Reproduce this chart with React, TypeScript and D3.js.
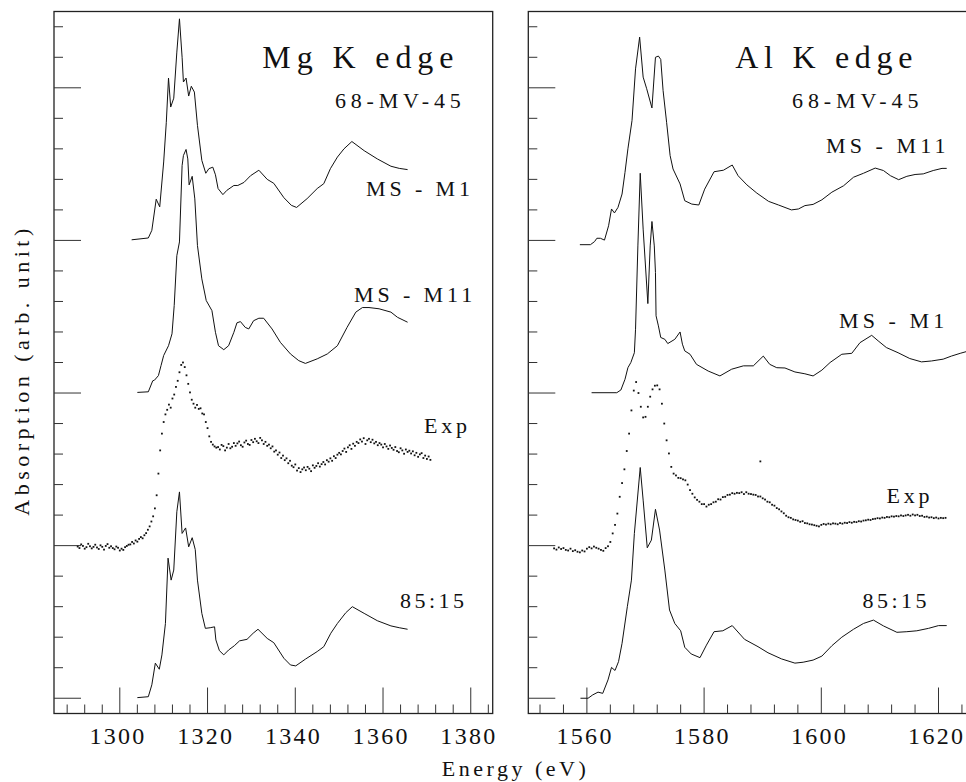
import React from "react";
import * as d3 from "d3";

// ---------- axes ----------
const MG_DOMAIN: [number, number] = [1285, 1385];
const AL_DOMAIN: [number, number] = [1550, 1625];
const Y_DOMAIN: [number, number] = [-0.5, 22.5];
const MG_TICKS = [1300, 1320, 1340, 1360, 1380];
const AL_TICKS = [1560, 1580, 1600, 1620];

// ---------- Mg K edge (energy eV, absorption in offset units) ----------
const MG_CALC_A = [[1302.7,15.02],[1306.5,15.08],[1307.3,15.33],[1308.3,16.35],[1309.1,16.1],[1310.0,17.57],[1310.6,18.87],[1311.1,20.32],[1311.6,19.37],[1312.3,19.66],[1313.0,21.17],[1313.6,22.26],[1314.2,21.0],[1314.5,20.19],[1315.1,20.32],[1315.7,19.73],[1316.3,20.05],[1317.0,19.86],[1317.7,18.77],[1318.7,17.62],[1319.6,17.2],[1320.3,17.35],[1321.2,17.4],[1321.8,17.15],[1322.4,16.7],[1323.5,16.5],[1324.4,16.64],[1326.0,16.8],[1326.9,16.8],[1328.3,16.9],[1329.8,17.12],[1331.7,17.3],[1333.6,17.0],[1335.1,16.87],[1337.4,16.4],[1339.1,16.15],[1340.3,16.08],[1342.7,16.37],[1345.0,16.7],[1346.5,16.86],[1348.0,17.35],[1349.6,17.73],[1351.1,18.0],[1352.9,18.24],[1355.7,17.94],[1358.7,17.67],[1361.8,17.43],[1363.7,17.36],[1365.6,17.32]];
const MG_CALC_B = [[1304.0,10.02],[1306.5,10.04],[1307.5,10.4],[1307.9,10.42],[1308.8,10.57],[1309.4,10.9],[1310.0,11.23],[1311.1,11.55],[1311.9,11.94],[1312.4,12.87],[1313.0,14.5],[1313.6,14.95],[1314.2,17.45],[1314.5,17.78],[1315.1,17.98],[1315.5,17.67],[1315.8,16.82],[1316.5,17.1],[1317.1,16.36],[1317.7,14.83],[1318.7,13.74],[1319.7,13.03],[1321.0,12.7],[1321.8,11.99],[1322.5,11.55],[1323.7,11.42],[1324.8,11.55],[1326.0,11.99],[1326.7,12.3],[1327.5,12.34],[1328.6,12.15],[1329.4,12.1],[1330.5,12.37],[1331.7,12.45],[1332.8,12.45],[1334.7,12.1],[1336.6,11.66],[1338.9,11.28],[1340.8,11.06],[1342.3,10.97],[1345.0,11.12],[1347.3,11.28],[1349.6,11.55],[1351.8,12.15],[1353.8,12.65],[1355.3,12.8],[1356.8,12.8],[1359.1,12.76],[1361.8,12.65],[1363.3,12.48],[1365.6,12.32]];
const MG_MIX = [[1304.0,0.02],[1306.5,0.05],[1307.3,0.44],[1308.1,1.15],[1309.0,0.95],[1309.6,1.42],[1310.4,2.45],[1311.0,4.59],[1311.7,3.87],[1312.3,4.2],[1313.0,6.11],[1313.6,6.76],[1314.2,5.4],[1315.0,5.58],[1315.7,4.96],[1316.5,5.26],[1317.2,4.87],[1317.7,3.87],[1318.7,2.78],[1319.5,2.29],[1320.6,2.31],[1321.6,2.34],[1321.9,1.91],[1322.7,1.56],[1323.7,1.42],[1324.8,1.58],[1326.1,1.72],[1327.3,1.88],[1329.0,1.93],[1330.4,2.13],[1331.5,2.26],[1333.6,1.96],[1335.1,1.82],[1337.4,1.31],[1338.9,1.09],[1340.1,1.06],[1342.3,1.28],[1345.0,1.53],[1346.5,1.69],[1348.1,2.13],[1349.6,2.45],[1351.5,2.8],[1353.0,3.0],[1355.7,2.78],[1358.7,2.54],[1361.8,2.37],[1363.7,2.31],[1365.6,2.26]];
const MG_EXP_START = 1290.4;
const MG_EXP_STEP = 0.4;
const MG_EXP = [
  4.97,4.92,5.04,4.99,4.90,4.95,5.06,4.98,4.91,4.96,
  5.03,4.94,4.89,5.01,4.96,4.87,4.99,5.05,4.93,4.98,
  4.92,4.88,4.97,4.93,4.84,4.90,4.86,4.95,4.99,5.03,
  5.04,5.12,5.07,5.17,5.13,5.22,5.28,5.24,5.34,5.41,
  5.52,5.63,5.79,5.96,6.22,6.65,7.36,8.12,8.67,9.05,
  9.30,9.45,9.62,9.52,9.82,9.95,10.2,10.4,10.68,10.92,
  11.0,10.85,10.58,10.3,10.02,9.78,9.65,9.52,9.61,9.48,
  9.50,9.33,9.30,9.05,8.85,8.58,8.40,8.31,8.25,8.21,
  8.23,8.15,8.30,8.26,8.12,8.21,8.33,8.19,8.24,8.36,
  8.27,8.35,8.41,8.29,8.24,8.38,8.44,8.33,8.30,8.46,
  8.39,8.50,8.42,8.36,8.53,8.45,8.33,8.40,8.27,8.31,
  8.19,8.25,8.08,8.12,7.98,8.05,7.87,7.95,7.80,7.86,
  7.70,7.78,7.62,7.57,7.66,7.46,7.54,7.41,7.50,7.56,
  7.47,7.58,7.52,7.44,7.63,7.55,7.61,7.70,7.59,7.67,
  7.74,7.66,7.80,7.75,7.86,7.78,7.93,7.87,7.98,8.04,
  7.99,8.10,8.18,8.07,8.22,8.29,8.17,8.34,8.27,8.40,
  8.36,8.48,8.41,8.52,8.33,8.45,8.50,8.39,8.47,8.35,
  8.40,8.29,8.36,8.31,8.22,8.33,8.25,8.17,8.28,8.20,
  8.14,8.23,8.10,8.06,8.19,8.12,8.01,8.15,8.07,8.11,
  8.02,8.09,7.96,8.04,7.91,7.99,8.03,7.87,7.95,7.84,
  7.92,7.81
];

// ---------- Al K edge ----------
const AL_CALC_A = [[1558.8,14.86],[1560.6,14.86],[1561.3,14.96],[1561.7,15.07],[1562.3,15.07],[1563.0,15.01],[1563.7,15.48],[1564.2,16.03],[1564.7,15.9],[1565.3,16.08],[1566.0,16.52],[1566.5,17.23],[1567.0,18.0],[1567.7,18.93],[1568.3,20.62],[1569.0,21.66],[1569.6,20.35],[1570.2,19.97],[1571.1,19.34],[1571.7,21.0],[1572.2,21.04],[1572.6,20.93],[1573.0,19.91],[1573.6,18.87],[1574.2,17.78],[1574.7,17.34],[1575.9,16.85],[1576.7,16.3],[1577.9,16.19],[1579.1,16.16],[1580.1,16.68],[1581.7,17.25],[1583.3,17.3],[1584.8,17.47],[1585.8,17.12],[1587.3,16.82],[1589.0,16.55],[1591.0,16.28],[1592.7,16.16],[1594.9,16.0],[1596.1,16.03],[1597.2,16.14],[1598.6,16.18],[1600.1,16.33],[1601.8,16.58],[1603.8,16.79],[1605.5,17.07],[1607.2,17.2],[1609.2,17.37],[1610.6,17.29],[1611.8,17.12],[1613.2,16.99],[1614.6,17.1],[1616.0,17.16],[1617.4,17.18],[1619.1,17.29],[1620.6,17.36],[1621.4,17.36]];
const AL_CALC_B = [[1560.8,10.01],[1565.1,10.01],[1565.8,10.1],[1566.5,10.45],[1567.0,10.83],[1567.5,11.0],[1568.1,11.32],[1568.3,12.09],[1568.7,14.82],[1569.1,17.2],[1569.6,15.37],[1570.4,12.93],[1570.8,14.82],[1571.1,15.62],[1571.5,14.82],[1571.7,13.95],[1571.8,12.53],[1572.2,12.2],[1572.6,11.82],[1573.3,11.76],[1573.8,11.62],[1575.0,11.76],[1575.9,12.0],[1576.3,11.6],[1576.7,11.38],[1577.6,11.27],[1578.7,10.94],[1580.7,10.72],[1582.7,10.56],[1584.7,10.78],[1586.7,10.89],[1588.4,10.89],[1590.1,11.21],[1591.2,10.94],[1592.4,10.83],[1593.8,10.82],[1595.5,10.69],[1597.2,10.63],[1598.6,10.56],[1600.1,10.75],[1601.5,11.0],[1603.5,11.27],[1605.2,11.3],[1606.6,11.65],[1608.6,11.89],[1609.7,11.71],[1611.1,11.49],[1613.1,11.32],[1615.1,11.13],[1617.1,11.02],[1618.8,11.05],[1620.8,11.11],[1622.2,11.21],[1623.7,11.3],[1624.8,11.36]];
const AL_MIX = [[1558.9,0.0],[1560.2,0.0],[1561.0,0.11],[1561.9,0.2],[1562.7,0.16],[1563.6,0.6],[1564.2,1.01],[1564.8,0.91],[1565.4,1.2],[1566.0,1.8],[1566.9,3.0],[1567.6,3.87],[1568.1,5.4],[1569.1,7.56],[1569.6,6.49],[1570.3,4.93],[1571.0,5.18],[1571.7,6.19],[1572.4,5.51],[1573.3,4.2],[1574.1,2.89],[1575.0,2.45],[1576.0,2.21],[1576.7,1.67],[1577.8,1.45],[1579.3,1.33],[1580.4,1.74],[1581.7,2.18],[1583.2,2.21],[1584.8,2.38],[1586.9,1.93],[1589.2,1.69],[1590.9,1.49],[1593.2,1.29],[1595.5,1.15],[1596.9,1.18],[1598.6,1.25],[1600.1,1.38],[1601.8,1.72],[1603.5,2.0],[1605.5,2.26],[1607.2,2.45],[1608.9,2.56],[1610.6,2.37],[1612.9,2.16],[1614.6,2.18],[1616.3,2.21],[1618.3,2.29],[1620.0,2.38],[1621.4,2.38]];
const AL_EXP_START = 1554.4;
const AL_EXP_STEP = 0.4;
const AL_EXP = [
  4.91,4.87,4.94,4.89,4.92,4.86,4.84,4.90,4.82,4.85,
  4.80,4.78,4.84,4.81,4.90,4.95,4.91,4.97,4.93,4.90,
  4.86,4.83,4.92,4.98,5.12,5.40,5.68,6.05,6.60,7.05,
  7.50,8.10,8.67,9.43,10.08,10.36,10.0,9.55,9.20,9.22,
  9.55,9.88,10.12,10.24,10.25,10.12,9.65,9.00,8.45,8.02,
  7.58,7.36,7.30,7.22,7.21,7.17,7.14,7.00,6.82,6.70,
  6.58,6.50,6.44,6.36,6.36,6.28,6.34,6.36,6.42,6.44,
  6.52,6.51,6.59,6.60,6.66,6.67,6.72,6.70,6.73,6.72,
  6.75,6.69,6.75,6.70,6.69,6.67,6.66,6.61,6.61,6.55,
  6.51,6.44,6.42,6.34,6.31,6.23,6.19,6.12,6.06,5.98,
  5.93,5.91,5.86,5.84,5.82,5.78,5.80,5.74,5.73,5.70,
  5.69,5.67,5.65,5.63,5.68,5.71,5.69,5.72,5.70,5.73,
  5.72,5.70,5.74,5.72,5.75,5.74,5.77,5.75,5.78,5.77,
  5.80,5.79,5.82,5.83,5.85,5.84,5.87,5.88,5.90,5.89,
  5.92,5.91,5.94,5.93,5.96,5.95,5.97,5.96,5.99,5.97,
  5.99,6.01,5.98,6.02,5.99,6.01,5.97,5.98,5.94,5.95,
  5.92,5.93,5.90,5.92,5.89,5.91,5.90,5.91
];
const AL_EXP_EXTRA = [[1589.6, 7.76]];

// ---------- labels ----------
const MG_TITLE = "Mg K edge";
const AL_TITLE = "Al K edge";
const MG_LABELS = ["68-MV-45", "MS - M1", "MS - M11", "Exp", "85:15"];
const AL_LABELS = ["68-MV-45", "MS - M11", "MS - M1", "Exp", "85:15"];
const Y_TITLE = "Absorption (arb. unit)";
const X_TITLE = "Energy (eV)";

const FONT = "Liberation Serif";
const INK = "#111";

type Pt = number[];

export default function App() {
  const y = d3.scaleLinear().domain(Y_DOMAIN).range([713.5, 11.5]);
  const xMg = d3.scaleLinear().domain(MG_DOMAIN).range([54, 492.7]);
  const xAl = d3.scaleLinear().domain(AL_DOMAIN).range([528.3, 967.8]);

  const mgExpPts: Pt[] = MG_EXP.map((v, i) => [MG_EXP_START + i * MG_EXP_STEP, v]);
  const alExpPts: Pt[] = AL_EXP.map((v, i) => [AL_EXP_START + i * AL_EXP_STEP, v]).concat(AL_EXP_EXTRA);

  const panels = [
    {
      key: "mg",
      x: xMg,
      minor: d3.range(1288, 1385, 4),
      major: MG_TICKS,
      lines: [MG_CALC_A, MG_CALC_B, MG_MIX],
      exp: mgExpPts,
      title: { t: MG_TITLE, x: 262.3, y: 68.3, ls: 5.9 },
      labels: [
        { t: MG_LABELS[0], x: 335, y: 108.3, ls: 4.8 },
        { t: MG_LABELS[1], x: 366, y: 196, ls: 3.9 },
        { t: MG_LABELS[2], x: 354, y: 301.7, ls: 3.9 },
        { t: MG_LABELS[3], x: 424, y: 433, ls: 3.8 },
        { t: MG_LABELS[4], x: 400, y: 608.3, ls: 3.5 },
      ],
    },
    {
      key: "al",
      x: xAl,
      minor: d3.range(1552, 1625, 4),
      major: AL_TICKS,
      lines: [AL_CALC_A, AL_CALC_B, AL_MIX],
      exp: alExpPts,
      title: { t: AL_TITLE, x: 735.3, y: 68.3, ls: 5.7 },
      labels: [
        { t: AL_LABELS[0], x: 792, y: 108.3, ls: 4.9 },
        { t: AL_LABELS[1], x: 826, y: 152.7, ls: 4.1 },
        { t: AL_LABELS[2], x: 839, y: 327.7, ls: 4.1 },
        { t: AL_LABELS[3], x: 886.5, y: 503.3, ls: 3.8 },
        { t: AL_LABELS[4], x: 862.5, y: 608.3, ls: 3.5 },
      ],
    },
  ];

  const yTicks = d3.range(0, 23);
  const y0 = y(Y_DOMAIN[0]);
  const y1 = y(Y_DOMAIN[1]);

  return (
    <svg
      width={966}
      height={782}
      style={{ position: "absolute", left: 0, top: 0, background: "#fff" }}
    >
      <rect x={0} y={0} width={966} height={782} fill="#fff" />
      {panels.map((p) => {
        const [xa, xb] = p.x.range();
        const line = d3
          .line<Pt>()
          .x((d) => p.x(d[0]))
          .y((d) => y(d[1]));
        return (
          <g key={p.key}>
            <rect
              x={xa}
              y={y1}
              width={xb - xa}
              height={y0 - y1}
              fill="none"
              stroke="#222"
              strokeWidth={1.3}
            />
            {yTicks.map((t) => (
              <line
                key={"y" + t}
                x1={xa}
                x2={xa + (t % 5 === 0 ? 27 : 9)}
                y1={y(t)}
                y2={y(t)}
                stroke="#333"
                strokeWidth={1}
              />
            ))}
            {p.minor.map((t) => {
              const isMajor = p.major.includes(t);
              return (
                <line
                  key={"x" + t}
                  x1={p.x(t)}
                  x2={p.x(t)}
                  y1={y0}
                  y2={y0 - (isMajor ? 26 : 9)}
                  stroke="#333"
                  strokeWidth={1}
                />
              );
            })}
            {p.major.map((t) => (
              <text
                key={"l" + t}
                x={p.x(t) - 1.8}
                y={743.5}
                fontSize={24}
                textAnchor="middle"
                fill={INK}
                style={{ fontFamily: FONT, letterSpacing: "2.3px" }}
              >
                {String(t)}
              </text>
            ))}
            {p.lines.map((d, i) => (
              <path
                key={"c" + i}
                d={line(d as Pt[]) || ""}
                fill="none"
                stroke={INK}
                strokeWidth={1}
                strokeLinejoin="round"
              />
            ))}
            {p.exp.map((d, i) => (
              <rect
                key={"e" + i}
                x={p.x(d[0]) - 0.9}
                y={y(d[1]) - 0.9}
                width={1.8}
                height={1.8}
                fill={INK}
              />
            ))}
            <text
              x={p.title.x}
              y={p.title.y}
              fontSize={32}
              fill={INK}
              style={{ fontFamily: FONT, letterSpacing: p.title.ls + "px" }}
            >
              {p.title.t}
            </text>
            {p.labels.map((l, i) => (
              <text
                key={"t" + i}
                x={l.x}
                y={l.y}
                fontSize={22}
                fill={INK}
                style={{ fontFamily: FONT, letterSpacing: l.ls + "px" }}
              >
                {l.t}
              </text>
            ))}
          </g>
        );
      })}
      <text
        x={515.5}
        y={776}
        fontSize={22}
        textAnchor="middle"
        fill={INK}
        style={{ fontFamily: FONT, letterSpacing: "3.5px" }}
      >
        {X_TITLE}
      </text>
      <text
        transform="translate(28.5,370) rotate(-90)"
        fontSize={22}
        textAnchor="middle"
        fill={INK}
        style={{ fontFamily: FONT, letterSpacing: "4.5px" }}
      >
        {Y_TITLE}
      </text>
    </svg>
  );
}
